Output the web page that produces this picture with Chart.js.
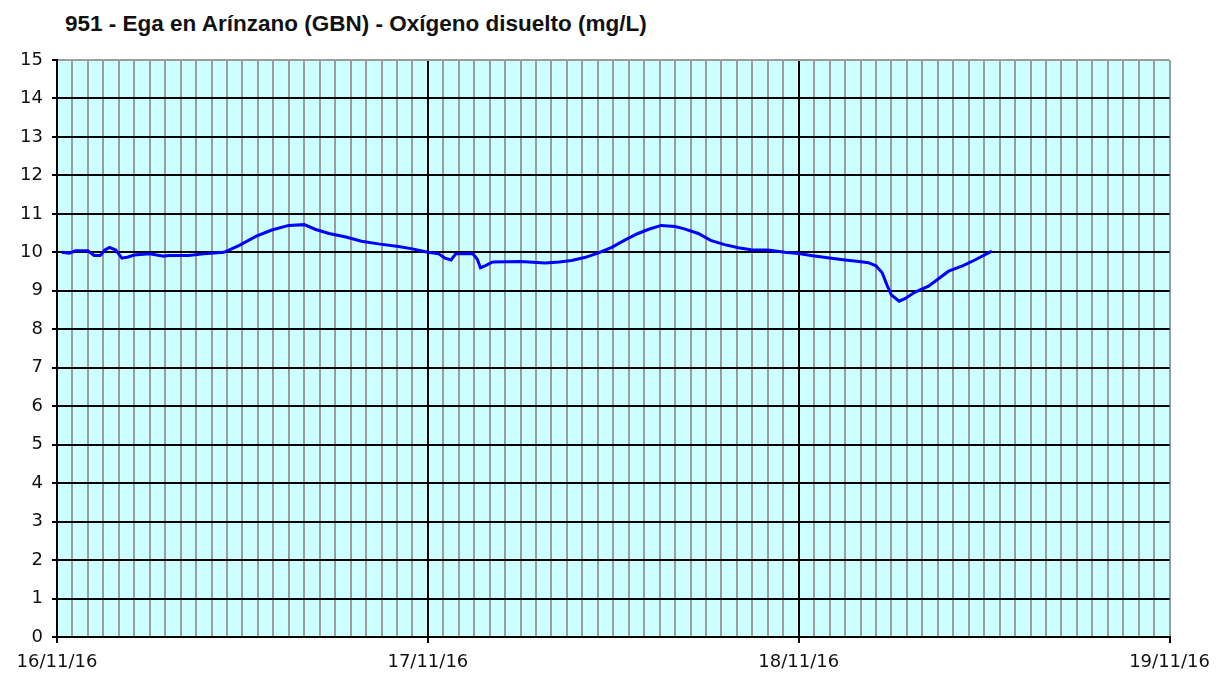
<!DOCTYPE html>
<html>
<head>
<meta charset="utf-8">
<script src="https://cdn.jsdelivr.net/npm/chart.js@4"></script>
<style>
  html, body { margin: 0; padding: 0; background: #fff; }
  #wrap { position: relative; width: 1219px; height: 675px; }
  #title {
    position: absolute; left: 65px; top: 11px;
    font: bold 22.5px "Liberation Sans", Arial, sans-serif; color: #111;
    white-space: nowrap;
  }
  canvas { position: absolute; left: 0; top: 0; }
</style>
</head>
<body>
<div id="wrap">
  <div id="title">951 - Ega en Arínzano (GBN) - Oxígeno disuelto (mg/L)</div>
  <canvas id="chart" width="1219" height="675"></canvas>
</div>
<script>
'use strict';

// hours since 16/11/16 00:00
const hours = [
  0.3, 0.8, 1.2, 2.0, 2.4, 2.8, 3.1, 3.4, 3.8, 4.2, 4.6, 5.0, 6.0, 6.9, 7.2, 8.5, 9.5,
  10.8, 11.8, 12.9, 13.9, 15.0, 16.0, 16.7, 17.6, 18.7, 19.7, 20.8, 22.1, 23.0, 24.0,
  24.7, 25.1, 25.5, 25.8, 26.9, 27.2, 27.4, 27.7, 28.2, 30.0, 31.6, 32.5, 33.3, 34.2,
  35.0, 35.9, 36.8, 37.6, 38.3, 39.1, 40.0, 40.6, 41.5, 42.3, 43.2, 44.1, 44.9, 46.0,
  47.1, 48.0, 48.9, 50.0, 51.0, 51.9, 52.5, 53.0, 53.4, 53.7, 54.0, 54.5, 54.9, 55.5,
  56.4, 57.0, 57.7, 58.6, 59.4, 60.5
];
const oxygen = [
  10.0, 9.98, 10.04, 10.04, 9.92, 9.92, 10.06, 10.13, 10.06, 9.85, 9.88, 9.93, 9.96, 9.90, 9.92, 9.92, 9.96,
  10.0, 10.18, 10.42, 10.58, 10.70, 10.72, 10.60, 10.49, 10.40, 10.29, 10.22, 10.15, 10.09, 10.0,
  9.96, 9.85, 9.80, 9.96, 9.97, 9.82, 9.60, 9.65, 9.75, 9.76, 9.72, 9.75, 9.79, 9.87,
  9.98, 10.13, 10.33, 10.49, 10.60, 10.70, 10.67, 10.61, 10.49, 10.31, 10.20, 10.12, 10.07, 10.06,
  10.0, 9.97, 9.91, 9.85, 9.80, 9.76, 9.73, 9.65, 9.47, 9.16, 8.89, 8.73, 8.80, 8.96,
  9.12, 9.30, 9.51, 9.65, 9.80, 10.03
];
const dayLabels = ['16/11/16', '17/11/16', '18/11/16', '19/11/16'];
const yMin = 0, yMax = 15;

const plotBg = {
  id: 'plotBg',
  beforeDraw(chart) {
    const { ctx, chartArea: a } = chart;
    ctx.save();
    ctx.fillStyle = '#ccffff';
    ctx.fillRect(a.left, a.top, a.right - a.left, a.bottom - a.top);
    ctx.restore();
  }
};

const tickFont = { family: 'DejaVu Sans', size: 18 };
const isDay = c => c.tick && c.tick.value % 24 === 0;

new Chart(document.getElementById('chart'), {
  type: 'line',
  data: {
    datasets: [{
      data: hours.map((h, i) => ({ x: h, y: oxygen[i] })),
      borderColor: '#0000ff',
      borderWidth: 3,
      pointRadius: 0,
      tension: 0,
      fill: false,
    }],
  },
  options: {
    responsive: false,
    animation: false,
    layout: { padding: { top: 60, right: 47, bottom: 0, left: 0 } },
    plugins: { legend: { display: false }, tooltip: { enabled: false }, title: { display: false } },
    scales: {
      x: {
        type: 'linear',
        min: 0, max: 72,
        afterBuildTicks: s => { s.ticks = Array.from({ length: 73 }, (_, i) => ({ value: i })); },
        afterFit: s => { s.height = 38; },
        grid: {
          color: c => (isDay(c) && c.tick.value < 72) ? '#000' : '#9c9c9c',
          lineWidth: 2,
          tickColor: c => isDay(c) ? '#000' : 'rgba(0,0,0,0)',
          tickLength: 6,
        },
        border: { display: true, color: '#000', width: 2 },
        ticks: {
          autoSkip: false, maxRotation: 0, padding: 9,
          color: '#111', font: tickFont,
          callback: v => (v % 24 === 0 ? dayLabels[v / 24] : ''),
        },
      },
      y: {
        min: yMin, max: yMax,
        afterFit: s => { s.width = 57; },
        grid: {
          color: c => (c.tick && c.tick.value === yMax) ? '#9c9c9c' : '#000',
          lineWidth: 2,
          tickColor: '#000',
          tickLength: 5,
        },
        border: { display: true, color: '#000', width: 2 },
        ticks: { stepSize: 1, padding: 9, color: '#111', font: tickFont },
      },
    },
  },
  plugins: [plotBg],
});
</script>
</body>
</html>
